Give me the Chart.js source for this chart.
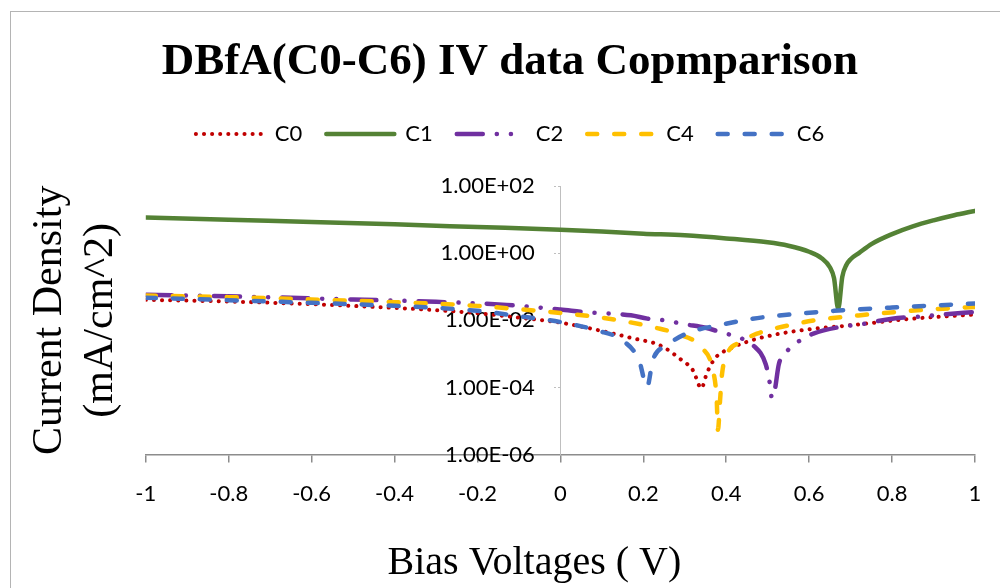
<!DOCTYPE html>
<html>
<head>
<meta charset="utf-8">
<script src="https://cdn.jsdelivr.net/npm/chart.js@4.4.1/dist/chart.umd.min.js"></script>
<style>
  html, body { margin: 0; padding: 0; background: #fff; overflow: hidden; }
  #frame { position: absolute; left: 10px; top: 11px; width: 990px; height: 577px; border-left: 1.5px solid #b4b4b4; border-top: 1.5px solid #b4b4b4; box-sizing: border-box; }
  #ivChart { position: absolute; left: 0; top: 0; }
</style>
</head>
<body>
<div id="frame"></div>
<canvas id="ivChart" width="1000" height="588"></canvas>
<script>
// bias voltage (V) and current density (mA/cm^2)
const c0V = [-1, -0.8, -0.6, -0.4, -0.3, -0.2, -0.1, 0, 0.1, 0.175, 0.24, 0.29, 0.32, 0.34, 0.353, 0.373, 0.41, 0.46, 0.52, 0.6, 0.69, 0.85, 1];
const c0J = [0.0407, 0.0363, 0.0302, 0.0234, 0.0200, 0.0162, 0.0120, 0.0085, 0.0048, 0.0029, 0.0018, 6.9e-4, 3.2e-4, 9.5e-5, 2.6e-4, 7.4e-4, 1.45e-3, 2.5e-3, 3.8e-3, 5.4e-3, 6.9e-3, 0.0112, 0.0148];

const c1V = [-1, -0.8, -0.6, -0.4, -0.2, 0, 0.1, 0.2, 0.3, 0.4, 0.5, 0.55, 0.6, 0.63, 0.65, 0.66, 0.67, 0.68, 0.69, 0.7, 0.72, 0.75, 0.8, 0.85, 0.9, 0.95, 1];
const c1J = [11.5, 9.8, 8.5, 7.2, 6.0, 5.0, 4.4, 3.8, 3.4, 2.75, 2.1, 1.66, 1.1, 0.71, 0.38, 0.18, 0.022, 0.2, 0.45, 0.66, 1.0, 1.86, 3.7, 6.3, 9.5, 13.5, 18.2];

const c2V = [-1, -0.75, -0.5, -0.3, -0.13, 0, 0.06, 0.17, 0.21, 0.25, 0.3, 0.35, 0.39, 0.43, 0.465, 0.495, 0.505, 0.51, 0.517, 0.527, 0.548, 0.578, 0.61, 0.68, 0.72, 0.8, 0.87, 0.92, 1];
const c2J = [0.0575, 0.0501, 0.0417, 0.0355, 0.0288, 0.0209, 0.0174, 0.0141, 0.0112, 0.0100, 0.0076, 0.0060, 0.0043, 0.0031, 0.0018, 5.0e-4, 1.35e-4, 4.9e-5, 8.3e-5, 5.0e-4, 1.26e-3, 2.5e-3, 4.0e-3, 6.5e-3, 7.4e-3, 0.0112, 0.0129, 0.0148, 0.0178];

const c4V = [-1, -0.8, -0.6, -0.4, -0.2, -0.1, 0, 0.1, 0.16, 0.23, 0.28, 0.34, 0.368, 0.377, 0.38, 0.385, 0.39, 0.404, 0.433, 0.474, 0.546, 0.61, 0.74, 0.875, 1];
const c4J = [0.055, 0.049, 0.0417, 0.0347, 0.0269, 0.0214, 0.0166, 0.0120, 0.0091, 0.0060, 0.0040, 0.00155, 3.2e-4, 4.3e-5, 5.5e-6, 4.0e-5, 2.6e-4, 1.1e-3, 2.2e-3, 4.0e-3, 6.9e-3, 9.8e-3, 0.0148, 0.0204, 0.0251];

const c6V = [-1, -0.8, -0.6, -0.4, -0.2, -0.1, 0, 0.09, 0.15, 0.19, 0.209, 0.223, 0.257, 0.31, 0.39, 0.45, 0.525, 0.66, 0.8, 1];
const c6J = [0.0468, 0.0398, 0.0331, 0.0269, 0.0191, 0.0132, 0.0089, 0.0049, 0.0025, 6.3e-4, 1.02e-4, 6.5e-4, 1.8e-3, 4.3e-3, 7.4e-3, 0.0105, 0.0138, 0.0191, 0.024, 0.0316];

const yTicks = [1e-6, 1e-4, 1e-2, 1, 1e2];

const toPoints = (v, j) => v.map((x, i) => ({ x: x, y: j[i] }));

// excel style 1.00E+02, padded so it sits left of the axis
const sciLabel = (v) => {
  const exp = Math.round(Math.log10(v));
  const mant = (v / Math.pow(10, exp)).toFixed(2);
  return mant + 'E' + (exp < 0 ? '-' : '+') + String(Math.abs(exp)).padStart(2, '0') + '\u2007\u2007';
};

const tickFont = { family: 'Lato', size: 22 };
const serif = 'Liberation Serif';
const xTitle = 'Bias Voltages ( V)';

const line = (label, v, j, color, width, dash, order) => ({
  label: label,
  data: toPoints(v, j),
  borderColor: color,
  backgroundColor: color,
  borderWidth: width,
  borderDash: dash,
  borderCapStyle: 'round',
  pointRadius: 0,
  fill: false,
  cubicInterpolationMode: 'monotone',
  order: order
});

const data = {
  datasets: [
    line('C0', c0V, c0J, '#C00000', 4, [0.1, 8], 5),
    line('C1', c1V, c1J, '#548235', 4.5, [], 4),
    line('C2', c2V, c2J, '#7030A0', 4.5, [26, 14, 0.1, 14, 0.1, 14], 3),
    line('C4', c4V, c4J, '#FFC000', 4.5, [10, 17], 2),
    line('C6', c6V, c6J, '#4472C4', 4.5, [10, 17], 1)
  ]
};

// extra room under the legend, and the x title a bit left of centre like excel
const layoutTweaks = {
  id: 'layoutTweaks',
  beforeInit(chart) {
    const fit = chart.legend.fit;
    chart.legend.fit = function () {
      fit.call(this);
      this.height += 31;
    };
  },
  afterDraw(chart) {
    const { ctx, chartArea } = chart;
    ctx.save();
    ctx.fillStyle = '#000';
    ctx.font = '40px "' + serif + '"';
    ctx.textAlign = 'center';
    ctx.textBaseline = 'middle';
    ctx.fillText(xTitle, (chartArea.left + chartArea.right) / 2 - 26, chart.height - 25);
    ctx.restore();
  }
};

const options = {
  responsive: false,
  animation: false,
  devicePixelRatio: 1,
  layout: { padding: { left: 45, right: 25, top: 10, bottom: 63 } },
  plugins: {
    title: {
      display: true,
      text: 'DBfA(C0-C6) IV data Copmparison',
      color: '#000',
      font: { family: serif, size: 45, weight: 'bold' },
      padding: { top: 25, bottom: 10 }
    },
    legend: {
      labels: {
        usePointStyle: true,
        pointStyle: 'line',
        pointStyleWidth: 68,
        color: '#000',
        font: tickFont,
        padding: 24,
        sort: (a, b) => a.datasetIndex - b.datasetIndex,
        generateLabels: chart => Chart.defaults.plugins.legend.labels.generateLabels(chart).map(item => {
          const ds = chart.data.datasets[item.datasetIndex];
          return Object.assign(item, {
            pointStyle: 'line',
            strokeStyle: ds.borderColor,
            lineWidth: ds.borderWidth,
            lineDash: ds.borderDash,
            lineCap: 'round'
          });
        })
      }
    },
    tooltip: { enabled: false }
  },
  scales: {
    x: {
      type: 'linear',
      position: 'bottom',
      min: -1,
      max: 1,
      ticks: {
        stepSize: 0.2,
        padding: 18,
        color: '#000',
        font: tickFont,
        callback: v => String(Math.round(v * 10) / 10)
      },
      grid: { drawOnChartArea: false, tickLength: 8, color: '#8c8c8c', lineWidth: 1.5 },
      border: { color: '#8c8c8c', width: 1.5 }
    },
    y: {
      type: 'logarithmic',
      position: { x: 0 },
      min: 1e-6,
      max: 1e2,
      z: 1,
      afterBuildTicks: s => { s.ticks = yTicks.map(v => ({ value: v })); },
      ticks: { color: '#000', font: tickFont, padding: 6, callback: v => sciLabel(v) },
      grid: { drawOnChartArea: false, tickLength: 8, color: '#bfbfbf', tickBorderDash: [2, 2] },
      border: { color: '#bfbfbf', width: 1, dash: [2, 2] }
    },
    yTitle: {
      type: 'linear',
      axis: 'y',
      position: 'left',
      grid: { display: false },
      border: { display: false },
      ticks: { display: false },
      title: {
        display: true,
        text: ['Current Density', '(mA/cm^2)'],
        color: '#000',
        font: { family: serif, size: 42, lineHeight: 1.2 },
        padding: { top: -20, bottom: 12 }
      }
    }
  }
};

new Chart('ivChart', { type: 'line', data, options, plugins: [layoutTweaks] });
</script>
</body>
</html>
